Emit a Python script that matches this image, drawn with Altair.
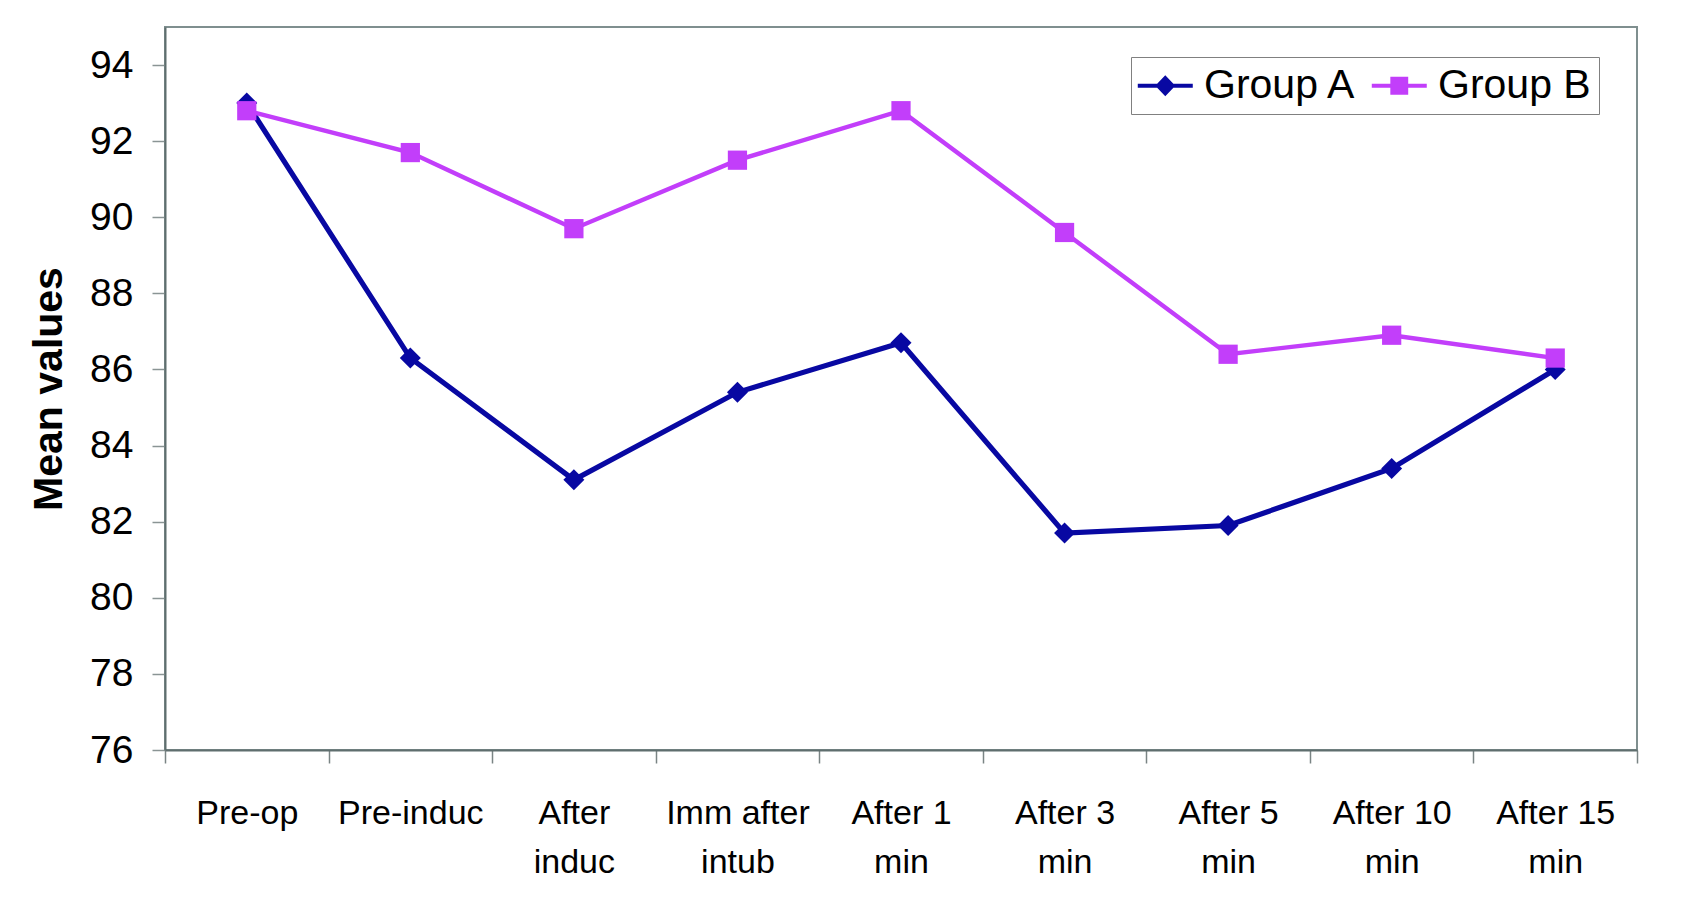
import altair as alt
import pandas as pd

categories = ["Pre-op", "Pre-induc", "After\ninduc", "Imm after\nintub", "After 1\nmin",
              "After 3\nmin", "After 5\nmin", "After 10\nmin", "After 15\nmin"]
group_a = [93.0, 86.3, 83.1, 85.4, 86.7, 81.7, 81.9, 83.4, 86.0]
group_b = [92.8, 91.7, 89.7, 91.5, 92.8, 89.6, 86.4, 86.9, 86.3]
series_names = ["Group A", "Group B"]
y_ticks = list(range(76, 95, 2))
colors = ["#0808A2", "#C23EFA"]

df = pd.DataFrame({
    "Time": categories * 2,
    "Group": [series_names[0]] * len(categories) + [series_names[1]] * len(categories),
    "Value": group_a + group_b,
    "Order": list(range(len(categories))) * 2,
})

# legend symbols: line segment with marker (diamond / square)
path_a = ("M-1.58,-0.15 L-0.17,-0.15 L0.42,-0.76 L1.01,-0.15 L2.42,-0.15 L2.42,0.15 "
          "L1.01,0.15 L0.42,0.76 L-0.17,0.15 L-1.58,0.15 Z")
path_b = ("M-1.58,-0.15 L-0.23,-0.15 L-0.23,-0.65 L1.07,-0.65 L1.07,-0.15 L2.42,-0.15 "
          "L2.42,0.15 L1.07,0.15 L1.07,0.65 L-0.23,0.65 L-0.23,0.15 L-1.58,0.15 Z")

color_scale = alt.Scale(domain=series_names, range=colors)

x_enc = alt.X(
    "Time:N", sort=categories,
    scale=alt.Scale(type="band", paddingInner=0, paddingOuter=0),
    axis=alt.Axis(
        title=None, labelAngle=0, tickBand="extent",
        labelExpr="split(datum.label, '\\n')",
        labelFont="Liberation Sans", labelFontSize=34, labelLineHeight=49,
        labelPadding=33, labelColor="black", labelLimit=400, labelOverlap=False,
        tickSize=13, tickColor="#7A8484", tickWidth=1.5,
        domainColor="#5F6E6E", domainWidth=2,
    ),
)
y_enc = alt.Y(
    "Value:Q",
    scale=alt.Scale(domain=[76, 95], nice=False, zero=False),
    axis=alt.Axis(
        values=y_ticks, title="Mean values", grid=False,
        labelFont="Liberation Sans", labelFontSize=39, labelColor="black",
        labelPadding=19, tickSize=13, tickColor="#8A9494", tickWidth=1.5,
        domainColor="#5F6E6E", domainWidth=2,
        titleFont="Liberation Sans", titleFontSize=41, titleFontWeight="bold",
        titleColor="black", titlePadding=19,
    ),
)

legend_def = alt.Legend(
    title=None, orient="none", legendX=966, legendY=30, direction="horizontal",
    strokeColor="#808080", fillColor="white", padding=8,
    symbolSize=756, symbolStrokeWidth=0, symbolOpacity=1,
    labelFont="Liberation Sans", labelFontSize=41, labelColor="black",
    labelOffset=24, columnPadding=14, labelLimit=400,
)

color_enc = alt.Color("Group:N", scale=color_scale, legend=legend_def)

base = alt.Chart(df)

legend_layer = base.mark_point(filled=True, size=0).encode(
    x=x_enc, y=y_enc,
    color=color_enc,
    shape=alt.Shape("Group:N", scale=alt.Scale(domain=series_names, range=[path_a, path_b]),
                    legend=legend_def),
)

line_a = base.transform_filter(alt.datum.Group == series_names[0]).mark_line(
    strokeWidth=5.2).encode(x=x_enc, y=y_enc, color=color_enc, order="Order:Q")
line_b = base.transform_filter(alt.datum.Group == series_names[1]).mark_line(
    strokeWidth=4.4).encode(x=x_enc, y=y_enc, color=color_enc, order="Order:Q")

pts_a = base.transform_filter(alt.datum.Group == series_names[0]).mark_point(
    filled=True, shape="diamond", size=440, opacity=1
).encode(x=x_enc, y=y_enc, color=color_enc)

pts_b = base.transform_filter(alt.datum.Group == series_names[1]).mark_point(
    filled=True, shape="square", size=370, opacity=1
).encode(x=x_enc, y=y_enc, color=color_enc)

chart = alt.layer(legend_layer, line_a, line_b, pts_a, pts_b).properties(
    width=1472, height=723, background="white",
    autosize=alt.AutoSizeParams(type="none"),
    padding={"left": 157, "top": 19, "right": 35, "bottom": 130},
).configure_view(
    stroke="#7F8F8F", strokeWidth=2
)

chart.save("out.html", embed_options={"renderer": "svg", "actions": False})
